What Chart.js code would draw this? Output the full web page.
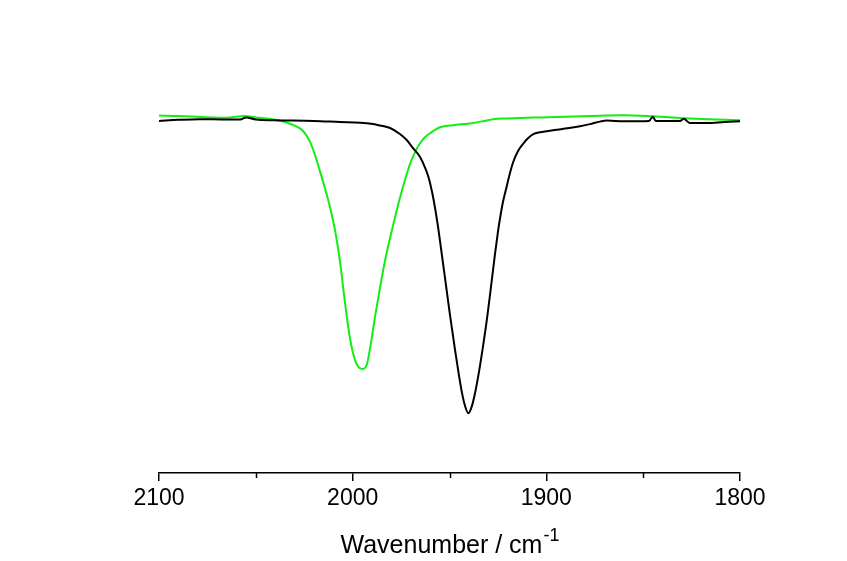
<!DOCTYPE html>
<html>
<head>
<meta charset="utf-8">
<script src="https://cdn.jsdelivr.net/npm/chart.js@4/dist/chart.umd.min.js"></script>
<style>
  body { margin: 0; background: #fff; }
  #wrap { width: 847px; height: 561px; }
</style>
</head>
<body>
<div id="wrap"><canvas id="grafico" width="847" height="561"></canvas></div>
<script>
const wnVerde = [2100, 2090, 2078, 2065, 2056, 2050, 2043, 2036, 2032.4, 2027.2, 2024.6, 2022, 2019.4, 2016.9, 2014.3, 2011.7, 2009.1, 2006.5, 2004, 2001.4, 1998.8, 1996.7, 1994.7, 1992.6, 1991, 1988.5, 1985.9, 1983.3, 1980.7, 1978.1, 1975.6, 1973, 1970.4, 1967.8, 1965.2, 1962.7, 1960.1, 1954.9, 1948.2, 1939.4, 1932, 1927.5, 1920, 1903, 1890, 1877, 1860, 1845, 1826, 1812, 1800];
const tVerde = [101.0, 100.9, 100.6, 100.4, 100.9, 100.5, 100.1, 99.4, 98.7, 97.4, 96.0, 93.6, 89.8, 85.3, 80.5, 75.1, 68.6, 59.6, 48.3, 38.1, 31.9, 29.8, 29.4, 30.8, 35.3, 44.0, 52.3, 60.0, 66.4, 72.3, 77.7, 82.8, 87.3, 90.7, 93.2, 94.9, 96.0, 97.7, 98.3, 98.8, 99.5, 100, 100.2, 100.5, 100.7, 100.9, 101.1, 100.8, 100.2, 99.9, 99.7];

const wnNegro = [2100, 2090, 2079, 2065, 2058, 2055, 2050, 2041, 2020, 2006.5, 1996.2, 1989.5, 1985.9, 1980.7, 1975.6, 1972.1, 1968.8, 1965.2, 1962.7, 1960.9, 1959, 1957.5, 1955.9, 1953.9, 1951.8, 1949.7, 1947.2, 1945.1, 1943.5, 1942, 1940.3, 1938.6, 1936.8, 1934.8, 1932.7, 1930.6, 1928.6, 1926.5, 1925, 1923.9, 1922.4, 1920.5, 1918.8, 1917.1, 1914.6, 1911.9, 1909.5, 1906.7, 1903.3, 1899.8, 1894.6, 1889.5, 1882.6, 1877.5, 1872.3, 1868.8, 1860, 1847, 1845, 1843.5, 1831, 1829, 1826, 1817, 1808, 1800];
const tNegro = [99.5, 99.8, 100, 99.9, 99.9, 100.5, 99.9, 99.7, 99.5, 99.2, 99.0, 98.6, 98.2, 97.5, 95.8, 94.1, 91.8, 89.3, 86.4, 83.7, 79.4, 75.0, 69.5, 61.5, 53.0, 44.5, 35.0, 27.5, 22.5, 19.0, 16.9, 18.6, 22.6, 28.5, 35.8, 43.8, 52.5, 61.9, 68.1, 72.0, 76.6, 80.9, 84.7, 87.9, 91.0, 93.1, 94.6, 95.8, 96.3, 96.6, 97.0, 97.4, 98.0, 98.6, 99.3, 99.6, 99.4, 99.5, 100.7, 99.5, 99.5, 100.1, 98.9, 98.9, 99.2, 99.4];

const ticksMayores = [2100, 2000, 1900, 1800];
const ticksMenores = [2050, 1950, 1850];
const tituloX = 'Wavenumber / cm';
const tituloSup = '-1';

const fuente = '"Liberation Sans", Arial, sans-serif';

// ticks menores y titulo con superindice
const extras = {
  id: 'extras',
  afterDraw(chart) {
    const c = chart.ctx;
    const x = chart.scales.x;
    const base = chart.chartArea.bottom;
    c.save();
    c.strokeStyle = '#000';
    c.lineWidth = 1.5;
    ticksMenores.forEach(v => {
      const px = Math.round(x.getPixelForValue(v)) + 0.5;
      c.beginPath();
      c.moveTo(px, base);
      c.lineTo(px, base + 5);
      c.stroke();
    });
    c.fillStyle = '#000';
    c.textBaseline = 'alphabetic';
    c.font = '25px ' + fuente;
    const w1 = c.measureText(tituloX).width;
    c.font = '18px ' + fuente;
    const w2 = c.measureText(tituloSup).width;
    const cx = (chart.chartArea.left + chart.chartArea.right) / 2;
    const x0 = cx - (w1 + w2) / 2;
    c.font = '25px ' + fuente;
    c.fillText(tituloX, x0, 553);
    c.font = '18px ' + fuente;
    c.fillText(tituloSup, x0 + w1 + 1, 541);
    c.restore();
  }
};

const ctx = document.getElementById('grafico').getContext('2d');
const grafico = new Chart(ctx, {
  type: 'line',
  data: {
    datasets: [
      {
        label: 'negro',
        data: wnNegro.map((w, i) => ({ x: w, y: tNegro[i] })),
        borderColor: '#000000',
        borderWidth: 2,
        pointRadius: 0,
        cubicInterpolationMode: 'monotone'
      },
      {
        label: 'verde',
        data: wnVerde.map((w, i) => ({ x: w, y: tVerde[i] })),
        borderColor: '#11ee11',
        borderWidth: 2,
        pointRadius: 0,
        cubicInterpolationMode: 'monotone'
      }
    ]
  },
  options: {
    responsive: false,
    animation: false,
    layout: { padding: { left: 159, right: 107, top: 13, bottom: 0 } },
    plugins: { legend: { display: false }, tooltip: { enabled: false } },
    scales: {
      x: {
        type: 'linear',
        reverse: true,
        min: 1800,
        max: 2100,
        afterBuildTicks: s => { s.ticks = ticksMayores.map(v => ({ value: v })); },
        afterFit: s => { s.height = 88; },
        border: { display: true, color: '#000', width: 1.5 },
        grid: { display: true, drawOnChartArea: false, drawTicks: true, tickLength: 8, color: '#000', lineWidth: 1.5 },
        ticks: { color: '#000', font: { family: fuente, size: 23 }, padding: 4, maxRotation: 0, callback: v => String(v) }
      },
      y: {
        display: false,
        min: 0,
        max: 130
      }
    }
  },
  plugins: [extras]
});
</script>
</body>
</html>
